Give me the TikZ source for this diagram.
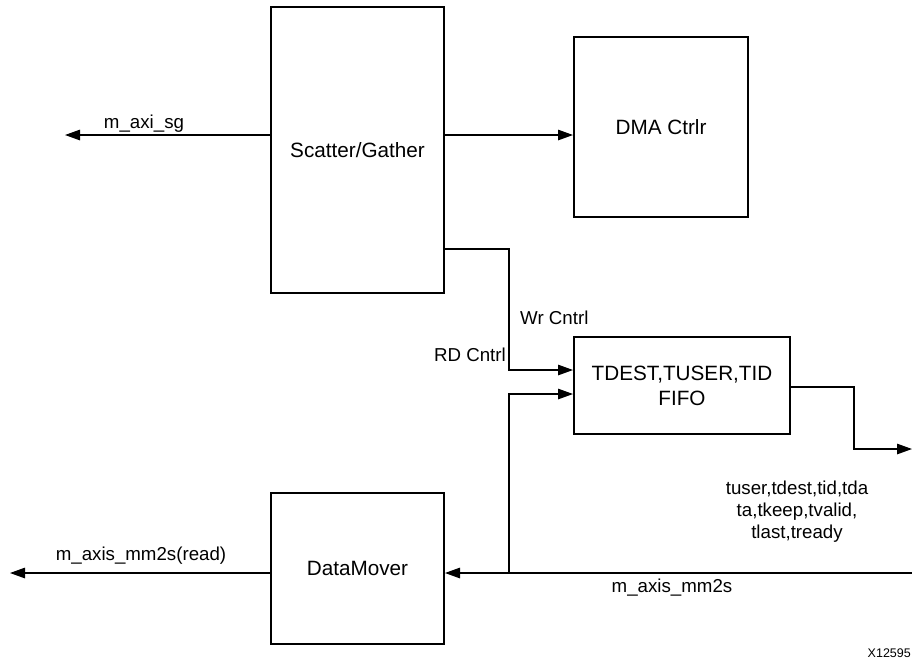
\documentclass[tikz,border=0pt]{standalone}
\usepackage{fontspec}
\setmainfont{Liberation Sans}
\usetikzlibrary{arrows.meta}
\tikzset{
  blk/.style={draw=black, line width=2pt, fill=white, inner sep=0pt, align=center,
    font=\fontsize{20.7pt}{25pt}\selectfont},
  conn/.style={line width=1.3pt, draw=black},
  arr/.style={conn, -{Triangle[length=15pt,width=10.5pt]}},
  lbl/.style={inner sep=0pt, font=\fontsize{18.7pt}{22pt}\selectfont},
}
\begin{document}
\begin{tikzpicture}[x=1pt,y=-1pt]
\useasboundingbox (0,0) rectangle (912,664);
% blocks
\node[blk, minimum width=173pt, minimum height=286pt] (sg) at (357.5,150) {Scatter/Gather};
\node[blk, minimum width=174pt, minimum height=180pt] (dma) at (661,127) {DMA Ctrlr};
\node[blk, minimum width=216pt, minimum height=97pt] (fifo) at (682,385.5) {TDEST,TUSER,TID\\FIFO};
\node[blk, minimum width=173pt, minimum height=151pt] (dm) at (357.5,568.5) {DataMover};
% free ends
\coordinate (sgout) at (65,135);
\coordinate (rdout) at (10,573);
\coordinate (mmin) at (912,573);
\coordinate (fout) at (912,449);
\coordinate (wrturn) at (509,249);
\coordinate (rdj) at (509,573);
% connectors
\draw[arr] (sg.west |- sgout) -- (sgout);
\draw[arr] (sg.east |- sgout) -- (dma.west |- sgout);
\draw[arr] (sg.east |- wrturn) -- (wrturn) -- (509,370) -- (fifo.west |- 0,370);
\draw[arr] (rdj) -- (509,394) -- (fifo.west |- 0,394);
\draw[arr] (mmin) -- (dm.east |- mmin);
\draw[arr] (dm.west |- rdout) -- (rdout);
\draw[arr] (fifo.east |- 0,387) -- (854,387) -- (854,449) -- (fout);
% labels
\node[lbl, anchor=base] (l1) at (144,128) {m\_axi\_sg};
\node[lbl, anchor=base] (l2) at (141,560) {m\_axis\_mm2s(read)};
\node[lbl, anchor=base] (l3) at (672,592) {m\_axis\_mm2s};
\node[lbl, anchor=base west] (l4) at (520,324) {Wr Cntrl};
\node[lbl, anchor=base east] (l5) at (506,361) {RD Cntrl};
\node[lbl, anchor=base] (l6) at (797,494) {tuser,tdest,tid,tda};
\node[lbl, anchor=base] (l7) at (797,516) {ta,tkeep,tvalid,};
\node[lbl, anchor=base] (l8) at (797,538) {tlast,tready};
\node[inner sep=0pt, anchor=base east, font=\fontsize{12.5pt}{14pt}\selectfont] (xid) at (911,657) {X12595};
\end{tikzpicture}
\end{document}
